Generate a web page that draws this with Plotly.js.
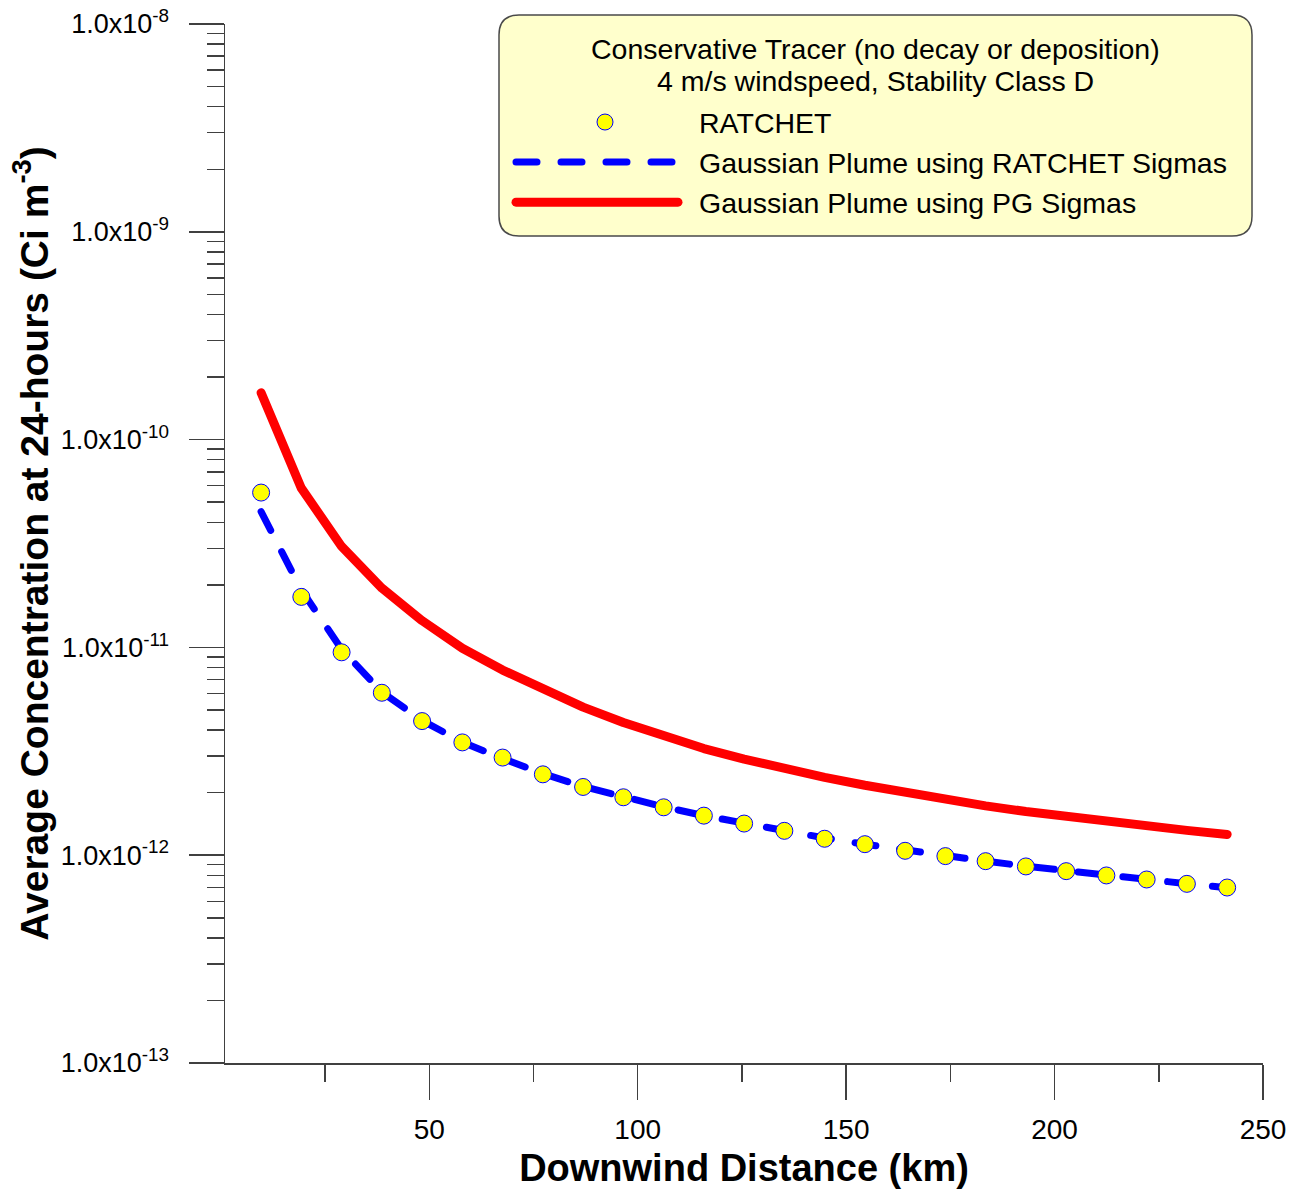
<!DOCTYPE html>
<html>
<head>
<meta charset="utf-8">
<script src="https://cdn.plot.ly/plotly-3.0.1.min.js"></script>
<style>
html,body{margin:0;padding:0;background:#ffffff;}
#chart{width:1291px;height:1189px;}
.scatterlayer .js-line{stroke-linecap:round;stroke-linejoin:round;}
.legend .js-line{stroke-linecap:round;}
</style>
</head>
<body>
<div id="chart"></div>
<script>
// ---- data ----
const distanceKm = [9.66, 19.31, 28.97, 38.62, 48.28, 57.94, 67.59, 77.25, 86.90, 96.56,
  106.22, 115.87, 125.53, 135.18, 144.84, 154.50, 164.15, 173.81, 183.46, 193.12,
  202.78, 212.43, 222.09, 231.74, 241.40];

const ratchetConc = [5.56e-11, 1.75e-11, 9.47e-12, 6.05e-12, 4.42e-12, 3.49e-12, 2.95e-12, 2.45e-12, 2.13e-12, 1.90e-12,
  1.70e-12, 1.55e-12, 1.42e-12, 1.31e-12, 1.20e-12, 1.13e-12, 1.05e-12, 9.90e-13, 9.36e-13, 8.83e-13,
  8.38e-13, 7.99e-13, 7.64e-13, 7.28e-13, 6.99e-13];

const gaussRatchetSigmas = [4.5e-11, 1.89e-11, 9.8e-12, 6.1e-12, 4.45e-12, 3.5e-12, 2.92e-12, 2.47e-12, 2.14e-12, 1.90e-12,
  1.71e-12, 1.55e-12, 1.42e-12, 1.31e-12, 1.21e-12, 1.13e-12, 1.055e-12, 9.92e-13, 9.37e-13, 8.85e-13,
  8.40e-13, 8.00e-13, 7.63e-13, 7.29e-13, 6.98e-13];

const gaussPgSigmas = [1.68e-10, 5.84e-11, 3.06e-11, 1.93e-11, 1.345e-11, 9.9e-12, 7.78e-12, 6.27e-12, 5.16e-12, 4.35e-12,
  3.72e-12, 3.26e-12, 2.90e-12, 2.61e-12, 2.37e-12, 2.17e-12, 1.995e-12, 1.85e-12, 1.727e-12, 1.622e-12,
  1.53e-12, 1.45e-12, 1.38e-12, 1.317e-12, 1.259e-12];

const seriesNames = ["RATCHET", "Gaussian Plume using RATCHET Sigmas", "Gaussian Plume using PG Sigmas"];
const legendTitleLines = ["Conservative Tracer (no decay or deposition)", "4 m/s windspeed, Stability Class D"];

const xTickVals = [50, 100, 150, 200, 250];
const yTickVals = [1e-13, 1e-12, 1e-11, 1e-10, 1e-9, 1e-8];
const yTickText = ["1.0x10<sup>-13</sup>", "1.0x10<sup>-12</sup>", "1.0x10<sup>-11</sup>",
  "1.0x10<sup>-10</sup>", "1.0x10<sup>-9</sup>", "1.0x10<sup>-8</sup>"];

const xTitle = "<b>Downwind Distance (km)</b>";
const yTitle = "<b>Average Concentration at 24-hours (Ci m<sup>-3</sup>)</b>";

// ---- layout helpers ----
const FONT = "Liberation Sans, Arial, Helvetica, sans-serif";
const M = {l: 225, r: 28, t: 24, b: 126};
const W = 1291, H = 1189;
const PW = W - M.l - M.r, PH = H - M.t - M.b;
function px2x(px){ return (px - M.l) / PW; }
function py2y(py){ return (H - M.b - py) / PH; }

function roundedRect(x0, y0, x1, y1, r){
  const X = px2x, Y = py2y;
  return "M" + X(x0 + r) + "," + Y(y0) +
    " L" + X(x1 - r) + "," + Y(y0) +
    " Q" + X(x1) + "," + Y(y0) + " " + X(x1) + "," + Y(y0 + r) +
    " L" + X(x1) + "," + Y(y1 - r) +
    " Q" + X(x1) + "," + Y(y1) + " " + X(x1 - r) + "," + Y(y1) +
    " L" + X(x0 + r) + "," + Y(y1) +
    " Q" + X(x0) + "," + Y(y1) + " " + X(x0) + "," + Y(y1 - r) +
    " L" + X(x0) + "," + Y(y0 + r) +
    " Q" + X(x0) + "," + Y(y0) + " " + X(x0 + r) + "," + Y(y0) + " Z";
}

const traces = [
  {
    x: distanceKm, y: gaussPgSigmas, name: seriesNames[2], type: "scatter", mode: "lines",
    line: {color: "#FF0000", width: 9}, legendrank: 3, legendgroup: "c"
  },
  {
    x: distanceKm, y: gaussRatchetSigmas, name: seriesNames[1], type: "scatter", mode: "lines",
    line: {color: "#0000FF", width: 7, dash: "21px,24px"}, legendrank: 2, legendgroup: "b"
  },
  {
    x: distanceKm, y: ratchetConc, name: seriesNames[0], type: "scatter", mode: "markers",
    marker: {symbol: "circle", size: 17, color: "#FFFF00", line: {color: "#0000FF", width: 1}},
    legendrank: 1, legendgroup: "a"
  }
];

const axisColor = "#404040";
const layout = {
  width: W, height: H,
  margin: M,
  paper_bgcolor: "#ffffff",
  plot_bgcolor: "#ffffff",
  font: {family: FONT, color: "#000000", size: 27},
  showlegend: true,
  legend: {
    x: px2x(511), xanchor: "left",
    y: py2y(97), yanchor: "top",
    bgcolor: "rgba(0,0,0,0)", borderwidth: 0,
    font: {family: FONT, size: 28.5, color: "#000000"},
    itemwidth: 178,
    tracegroupgap: 8,
    traceorder: "normal"
  },
  xaxis: {
    type: "linear", range: [1, 250],
    showgrid: false, zeroline: false,
    showline: true, linecolor: axisColor, linewidth: 1.5,
    ticks: "outside", ticklen: 35, tickwidth: 1.5, tickcolor: axisColor,
    tickmode: "array", tickvals: xTickVals,
    ticklabelstandoff: 6,
    tickfont: {family: FONT, size: 28, color: "#000000"},
    minor: {ticks: "outside", ticklen: 17, tickwidth: 1.5, tickcolor: axisColor, tick0: 0, dtick: 25, showgrid: false},
    automargin: false,
    title: {text: xTitle, font: {family: FONT, size: 38, color: "#000000"}, standoff: 12}
  },
  yaxis: {
    type: "log", range: [-13, -8],
    showgrid: false, zeroline: false,
    showline: true, linecolor: axisColor, linewidth: 1.5,
    ticks: "outside", ticklen: 35, tickwidth: 1.5, tickcolor: axisColor,
    tickmode: "array", tickvals: yTickVals, ticktext: yTickText,
    ticklabelstandoff: 14,
    tickfont: {family: FONT, size: 27, color: "#000000"},
    minor: {ticks: "outside", ticklen: 17, tickwidth: 1.5, tickcolor: axisColor, dtick: "D1", showgrid: false},
    automargin: false,
    title: {text: yTitle, font: {family: FONT, size: 39, color: "#000000"}, standoff: 0}
  },
  shapes: [
    {
      type: "path", xref: "paper", yref: "paper", layer: "below",
      path: roundedRect(499, 15, 1252, 236, 20),
      fillcolor: "#FFFFCC", line: {color: "#4a4a4a", width: 1.5}
    }
  ],
  annotations: [
    {
      xref: "paper", yref: "paper", x: px2x(875.5), y: py2y(49), xanchor: "center", yanchor: "middle",
      text: legendTitleLines[0], showarrow: false, font: {family: FONT, size: 28.5, color: "#000000"}
    },
    {
      xref: "paper", yref: "paper", x: px2x(875.5), y: py2y(81), xanchor: "center", yanchor: "middle",
      text: legendTitleLines[1], showarrow: false, font: {family: FONT, size: 28.5, color: "#000000"}
    }
  ]
};

Plotly.newPlot("chart", traces, layout, {staticPlot: true, displayModeBar: false}).then(function(gd){
  // leave a small gap between the solid legend sample and its label, as in the reference
  gd.querySelectorAll(".legend .traces").forEach(function(t){
    const label = t.querySelector(".legendtext");
    if (label && label.textContent === seriesNames[2]) {
      const ln = t.querySelector(".js-line");
      if (ln) ln.style.strokeDasharray = "162px,400px";
    }
  });
});
</script>
</body>
</html>
